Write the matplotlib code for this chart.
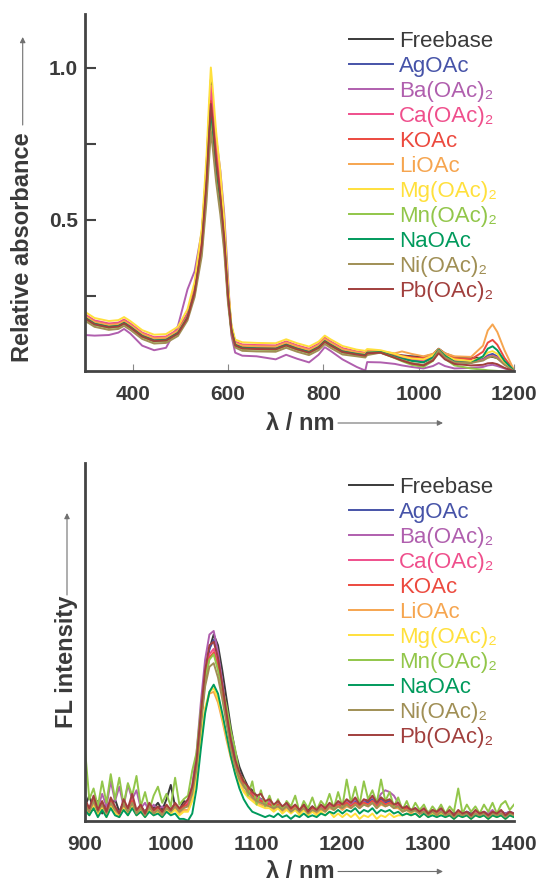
import numpy as np
import matplotlib
matplotlib.use('Agg')
import matplotlib.pyplot as plt

plt.rcParams['font.family'] = ['Liberation Sans', 'DejaVu Sans']

# Legend names and colours
names = ['Freebase', 'AgOAc', 'Ba(OAc)₂', 'Ca(OAc)₂', 'KOAc', 'LiOAc',
         'Mg(OAc)₂', 'Mn(OAc)₂', 'NaOAc', 'Ni(OAc)₂', 'Pb(OAc)₂']
colors = ['#3a3a3a', '#4653a8', '#b05fae', '#ef4f8c', '#ec4a3f', '#f6a54f',
          '#ffe03c', '#92c64a', '#009a5c', '#a08f55', '#a13f3d']

# Absorbance spectra (relative)
wl = [300, 320, 350, 370, 382, 395, 420, 445, 470, 495,
      515, 530, 545, 555, 560, 564, 568, 575, 584, 592,
      600, 607, 615, 630, 660, 700, 722, 745, 770, 790,
      803, 815, 840, 870, 888, 892,
      920, 950, 965, 985, 1010, 1030, 1042, 1055, 1075,
      1110, 1135, 1145, 1155, 1165, 1180, 1200]

abs_freebase = [.185, .165, .155, .158, .168, .155, .125, .110, .112, .135,
                .19, .28, .45, .68, .84, .96, .89, .76, .63, .48,
                .27, .15, .095, .086, .084, .083, .096, .083, .072, .088,
                .108, .096, .074, .064, .060, .068,
                .066, .057, .053, .050, .048, .057, .075, .060, .048,
                .045, .045, .047, .048, .044, .030, .003]
abs_ag = [.180, .160, .150, .153, .163, .150, .120, .105, .107, .130,
          .182, .265, .42, .64, .79, .90, .835, .715, .59, .45,
          .255, .142, .090, .081, .079, .078, .091, .078, .067, .083,
          .103, .091, .069, .060, .056, .064,
          .064, .050, .044, .037, .032, .045, .066, .048, .034,
          .030, .042, .053, .058, .050, .026, .003]
abs_ba = [.120, .118, .120, .128, .140, .125, .085, .070, .078, .150,
          .27, .33, .46, .64, .79, .92, .87, .77, .66, .52,
          .31, .12, .062, .052, .050, .040, .055, .042, .030, .055,
          .080, .068, .040, .015, .003, .031,
          .030, .025, .020, .015, .010, .018, .028, .018, .010,
          .012, .015, .020, .022, .018, .010, .001]
abs_ca = [.188, .168, .158, .161, .171, .158, .128, .113, .115, .138,
          .19, .275, .445, .67, .825, .94, .87, .745, .62, .47,
          .27, .148, .098, .089, .087, .086, .099, .086, .075, .091,
          .111, .099, .077, .066, .062, .069,
          .067, .054, .048, .041, .037, .050, .070, .053, .038,
          .032, .038, .048, .052, .046, .025, .003]
abs_k = [.182, .162, .152, .155, .165, .152, .122, .107, .109, .132,
         .184, .265, .42, .635, .78, .89, .83, .705, .585, .445,
         .255, .142, .092, .083, .081, .080, .093, .080, .069, .085,
         .105, .093, .071, .062, .058, .066,
         .065, .056, .052, .047, .044, .055, .074, .057, .044,
         .040, .065, .095, .104, .088, .045, .004]
abs_li = [.183, .163, .153, .156, .166, .153, .124, .109, .111, .134,
          .18, .255, .40, .59, .72, .82, .76, .65, .54, .41,
          .24, .14, .094, .085, .083, .082, .095, .082, .071, .087,
          .107, .095, .073, .063, .059, .067,
          .066, .060, .066, .058, .050, .058, .074, .060, .050,
          .048, .085, .135, .155, .130, .070, .005]
abs_mg = [.196, .176, .166, .169, .179, .166, .136, .121, .123, .147,
          .205, .295, .47, .71, .88, 1.0, .93, .79, .655, .50,
          .285, .155, .105, .096, .094, .093, .106, .093, .082, .098,
          .118, .106, .084, .072, .068, .074,
          .070, .058, .050, .043, .040, .053, .068, .053, .040,
          .034, .048, .062, .067, .058, .030, .003]
abs_mn = [.173, .153, .143, .146, .156, .143, .113, .098, .100, .123,
          .175, .255, .40, .60, .745, .85, .79, .67, .555, .425,
          .24, .135, .084, .074, .072, .071, .084, .071, .060, .076,
          .096, .084, .062, .054, .050, .058,
          .062, .044, .034, .022, .015, .035, .066, .042, .020,
          .010, .006, .004, .003, .002, .000, .000]
abs_na = [.177, .157, .147, .150, .160, .147, .117, .102, .104, .127,
          .178, .258, .405, .61, .755, .86, .80, .675, .56, .425,
          .245, .138, .088, .078, .076, .075, .088, .075, .064, .080,
          .100, .088, .066, .058, .054, .062,
          .064, .049, .042, .035, .030, .046, .072, .052, .032,
          .028, .050, .075, .083, .070, .035, .003]
abs_ni = [.167, .147, .137, .140, .150, .137, .107, .092, .094, .117,
          .168, .245, .38, .56, .69, .79, .735, .625, .515, .395,
          .225, .128, .079, .068, .066, .065, .078, .065, .054, .070,
          .090, .078, .056, .050, .046, .054,
          .062, .046, .038, .028, .022, .040, .070, .047, .030,
          .028, .036, .045, .050, .043, .022, .002]
abs_pb = [.175, .155, .145, .148, .158, .145, .115, .100, .102, .125,
          .176, .26, .415, .625, .77, .88, .82, .695, .575, .44,
          .25, .138, .086, .076, .074, .073, .086, .073, .062, .078,
          .098, .086, .064, .056, .052, .060,
          .062, .045, .036, .026, .020, .036, .060, .040, .025,
          .020, .022, .027, .028, .024, .012, .001]

absorbance = [abs_freebase, abs_ag, abs_ba, abs_ca, abs_k, abs_li,
              abs_mg, abs_mn, abs_na, abs_ni, abs_pb]

# Fluorescence spectra, 900-1400 nm every 5 nm (arb. units)
fl_wl = np.arange(900, 1401, 5)

fl_freebase = [40, 70, 30, 55, 20, 45, 35, 60, 25, 50, 30, 55, 20, 40, 25, 45, 35, 50, 30, 60, 100, 40, 30, 55,
               50, 80, 150, 270, 400, 480, 520, 490, 420, 340, 260, 195, 150, 120, 95, 85, 70, 60, 55, 50,
               40, 50, 35, 45, 30, 40, 25, 45, 30, 40, 25, 35, 30, 45, 35, 50, 40, 55, 45, 55,
               40, 55, 50, 60, 45, 65, 50, 55, 40, 45, 30, 40, 25, 30, 20, 30, 20, 25, 20, 30,
               15, 25, 20, 25, 15, 25, 20, 25, 15, 20, 15, 25, 15, 25, 20, 20, 15]
fl_ag = [45, 30, 60, 25, 50, 30, 55, 35, 25, 50, 30, 55, 25, 40, 20, 45, 25, 35, 20, 40, 30, 45, 30, 40,
         50, 85, 160, 290, 410, 480, 505, 460, 385, 305, 230, 175, 135, 110, 90, 75, 65, 60, 50, 50,
         40, 45, 35, 45, 30, 40, 30, 40, 25, 35, 30, 40, 35, 45, 35, 50, 40, 50, 45, 55,
         45, 55, 50, 60, 45, 60, 50, 55, 40, 45, 35, 40, 30, 35, 25, 30, 20, 30, 20, 30,
         20, 25, 15, 25, 20, 25, 15, 25, 20, 25, 15, 25, 20, 25, 20, 25, 20]
fl_ba = [50, 30, 65, 35, 75, 40, 110, 55, 95, 40, 100, 60, 85, 35, 50, 25, 45, 30, 40, 25, 35, 45, 30, 40,
         55, 100, 190, 330, 450, 520, 530, 470, 390, 300, 220, 165, 130, 105, 90, 75, 65, 60, 50, 55,
         40, 50, 35, 45, 30, 40, 30, 40, 25, 35, 30, 40, 35, 45, 40, 50, 45, 55, 45, 60,
         50, 55, 60, 65, 55, 75, 85, 80, 70, 50, 35, 40, 30, 35, 25, 30, 25, 30, 20, 30,
         20, 25, 15, 25, 20, 25, 15, 25, 20, 25, 20, 30, 15, 25, 20, 25, 20]
fl_ca = [45, 25, 55, 30, 50, 25, 55, 35, 20, 50, 30, 60, 25, 40, 20, 45, 25, 35, 20, 40, 30, 45, 30, 40,
         50, 85, 160, 285, 400, 465, 480, 440, 370, 290, 215, 165, 130, 105, 85, 75, 65, 55, 50, 50,
         40, 45, 35, 40, 30, 40, 25, 40, 25, 35, 25, 40, 30, 45, 35, 45, 40, 50, 40, 50,
         40, 50, 45, 55, 40, 55, 45, 50, 40, 45, 30, 35, 25, 30, 20, 30, 20, 25, 20, 25,
         15, 25, 15, 25, 15, 20, 15, 25, 15, 20, 15, 25, 15, 20, 15, 20, 15]
fl_k = [50, 30, 60, 25, 45, 30, 55, 35, 20, 45, 30, 55, 25, 40, 20, 45, 25, 35, 20, 40, 30, 45, 30, 40,
        45, 80, 155, 280, 390, 455, 470, 430, 360, 285, 210, 160, 125, 100, 85, 70, 60, 55, 50, 45,
        40, 45, 35, 40, 30, 40, 25, 40, 25, 35, 30, 35, 30, 40, 35, 45, 40, 50, 40, 50,
        40, 50, 45, 55, 40, 55, 45, 50, 40, 40, 30, 35, 25, 30, 20, 25, 20, 25, 20, 25,
        15, 20, 15, 25, 15, 20, 15, 20, 15, 20, 15, 20, 15, 20, 15, 20, 15]
fl_li = [35, 20, 45, 20, 40, 15, 45, 25, 15, 40, 20, 45, 20, 30, 15, 35, 20, 30, 15, 35, 25, 35, 20, 30,
         30, 60, 120, 220, 310, 355, 360, 330, 280, 225, 175, 135, 105, 85, 70, 60, 50, 45, 40, 40,
         30, 40, 25, 35, 25, 35, 20, 35, 20, 30, 20, 30, 25, 35, 30, 40, 30, 40, 35, 45,
         35, 45, 40, 50, 35, 45, 40, 45, 35, 35, 25, 30, 20, 30, 20, 25, 15, 25, 15, 25,
         15, 20, 10, 20, 15, 20, 10, 20, 15, 20, 10, 20, 15, 20, 10, 20, 15]
fl_mg = [30, 15, 40, 15, 35, 10, 40, 20, 10, 35, 15, 40, 15, 25, 10, 30, 15, 25, 10, 30, 20, 30, 15, 25,
         25, 55, 120, 225, 315, 360, 370, 340, 290, 235, 180, 140, 105, 80, 65, 55, 45, 40, 35, 35,
         25, 35, 20, 30, 20, 30, 15, 30, 15, 25, 15, 25, 15, 25, 10, 20, 10, 20, 10, 20,
         5, 15, 10, 20, 5, 15, 10, 20, 10, 15, 15, 20, 15, 20, 10, 20, 10, 20, 10, 20,
         10, 15, 5, 15, 10, 15, 5, 15, 10, 15, 5, 15, 10, 15, 5, 15, 10]
fl_mn = [200, 60, 90, 40, 110, 50, 130, 60, 120, 45, 105, 70, 125, 40, 80, 30, 70, 95, 50, 75, 40, 120, 45, 60,
         70, 140, 190, 310, 400, 450, 465, 420, 370, 320, 250, 200, 130, 115, 70, 110, 45, 85, 40, 70,
         35, 60, 30, 55, 40, 70, 25, 55, 35, 65, 30, 55, 40, 75, 35, 80, 40, 115, 50, 95,
         45, 110, 60, 85, 50, 115, 55, 80, 40, 65, 30, 55, 25, 50, 30, 45, 20, 40, 25, 45,
         20, 40, 25, 90, 20, 45, 25, 40, 20, 45, 25, 50, 20, 45, 55, 30, 45]
fl_na = [30, 15, 35, 10, 30, 10, 35, 15, 10, 30, 15, 35, 15, 25, 10, 25, 15, 20, 10, 25, 15, 20, 5, 5,
         0, 20, 90, 200, 300, 360, 380, 355, 300, 240, 180, 130, 90, 60, 40, 25, 20, 15, 10, 15,
         10, 20, 10, 15, 5, 15, 10, 20, 10, 15, 10, 20, 15, 25, 20, 30, 20, 30, 25, 35,
         20, 30, 25, 35, 20, 30, 25, 30, 20, 25, 15, 20, 15, 20, 10, 20, 10, 15, 10, 15,
         10, 15, 5, 15, 10, 15, 5, 15, 10, 15, 5, 15, 10, 15, 5, 15, 10]
fl_ni = [45, 25, 55, 25, 45, 20, 50, 30, 20, 45, 25, 50, 20, 35, 15, 40, 20, 30, 15, 35, 25, 40, 25, 35,
         40, 75, 145, 265, 375, 430, 440, 400, 340, 270, 200, 150, 115, 95, 80, 65, 55, 50, 45, 40,
         35, 40, 30, 40, 25, 35, 25, 35, 20, 30, 25, 35, 25, 40, 30, 40, 35, 45, 35, 45,
         35, 45, 40, 50, 35, 50, 40, 45, 35, 40, 25, 30, 25, 30, 20, 25, 15, 25, 15, 25,
         15, 20, 10, 20, 15, 20, 10, 20, 15, 20, 10, 20, 15, 20, 10, 20, 15]
fl_pb = [60, 35, 70, 30, 55, 25, 65, 40, 20, 60, 35, 75, 30, 45, 20, 50, 30, 40, 25, 45, 30, 50, 35, 45,
         60, 95, 170, 300, 420, 490, 500, 455, 380, 300, 225, 170, 135, 110, 95, 80, 70, 75, 55, 60,
         45, 55, 40, 50, 35, 45, 30, 45, 25, 40, 30, 45, 35, 50, 40, 55, 45, 60, 50, 65,
         45, 60, 55, 70, 50, 65, 55, 60, 45, 50, 35, 40, 30, 35, 25, 35, 20, 30, 25, 35,
         20, 30, 15, 30, 20, 25, 15, 30, 20, 25, 15, 25, 20, 30, 15, 25, 20]

fluorescence = [fl_freebase, fl_ag, fl_ba, fl_ca, fl_k, fl_li,
                fl_mg, fl_mn, fl_na, fl_ni, fl_pb]

W, H = 542, 882
fig = plt.figure(figsize=(W / 100, H / 100), dpi=100)

def px(x, y):
    # pixel position (from top-left) to figure fraction
    return x / W, 1 - y / H

spine_col = '#444444'
text_col = '#3a3a3a'
arrow_col = '#707070'

ax1 = fig.add_axes([85 / W, 1 - 371.5 / H, 429 / W, 357.5 / H])
ax2 = fig.add_axes([85 / W, 1 - 820.7 / H, 429 / W, 358 / H])

for ax in (ax1, ax2):
    for s in ('top', 'right'):
        ax.spines[s].set_visible(False)
    for s in ('left', 'bottom'):
        ax.spines[s].set_linewidth(2.0)
        ax.spines[s].set_color(spine_col)

# Absorbance panel
for y, c, n in zip(absorbance, colors, names):
    ax1.plot(wl, y, color=c, lw=1.4, label=n)
ax1.set_xlim(300, 1200)
ax1.set_ylim(0, 1.176)
ax1.set_xticks([400, 600, 800, 1000, 1200])
ax1.set_yticks([0.5, 1.0])
ax1.set_yticklabels(['0.5', '1.0'])
ax1.set_yticks([0.25, 0.75], minor=True)
ax1.tick_params(axis='y', which='both', direction='in', length=8, width=1.5,
                color=spine_col, pad=5, labelsize=15, labelcolor=text_col)
ax1.tick_params(axis='x', direction='in', length=5, width=0.8,
                color='#888888', pad=9.5, labelsize=15, labelcolor=text_col)
for t in ax1.get_xticklabels() + ax1.get_yticklabels():
    t.set_fontweight('bold')

# Fluorescence panel
for y, c, n in zip(fluorescence, colors, names):
    ax2.plot(fl_wl, y, color=c, lw=1.4, label=n)
ax2.set_xlim(900, 1400)
ax2.set_ylim(0, 1000)
ax2.set_xticks([900, 1000, 1100, 1200, 1300, 1400])
ax2.set_yticks([])
ax2.tick_params(axis='x', length=0, pad=10, labelsize=15, labelcolor=text_col)
for t in ax2.get_xticklabels():
    t.set_fontweight('bold')

# Legends
for ax, ytop in ((ax1, 31), (ax2, 477)):
    leg = ax.legend(loc='upper left', bbox_to_anchor=px(349, ytop),
                    bbox_transform=fig.transFigure, frameon=False, fontsize=16,
                    borderpad=0, borderaxespad=0, handlelength=2.0,
                    handletextpad=0.25, labelspacing=0.18, labelcolor='linecolor')
    for h in leg.get_lines():
        h.set_linewidth(1.4)

# Axis labels with arrows
lab = dict(fontsize=17, fontweight='bold', color=text_col)
arw = dict(arrowstyle='-|>', color=arrow_col, lw=0.8, mutation_scale=8,
           shrinkA=0, shrinkB=0)

fig.text(*px(23, 247.5), 'Relative absorbance', rotation=90,
         ha='center', va='center', **lab)
fig.add_artist(plt.Annotation('', xy=px(22.7, 37), xytext=px(22.7, 125),
                              xycoords='figure fraction', arrowprops=arw))

fig.text(*px(67, 662), 'FL intensity', rotation=90,
         ha='center', va='center', **lab)
fig.add_artist(plt.Annotation('', xy=px(67, 513), xytext=px(67, 595),
                              xycoords='figure fraction', arrowprops=arw))

for yc in (423, 871.5):
    fig.text(*px(300, yc), 'λ / nm', ha='center', va='center', **lab)
    fig.add_artist(plt.Annotation('', xy=px(443, yc), xytext=px(338, yc),
                                  xycoords='figure fraction', arrowprops=arw))

fig.savefig('out.png', dpi=100)
